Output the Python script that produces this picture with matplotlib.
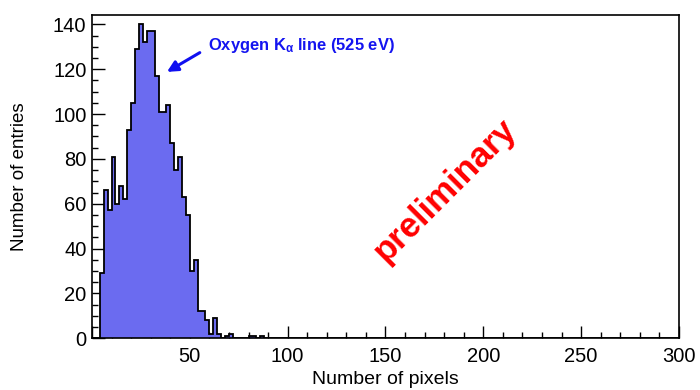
import numpy as np
import matplotlib
matplotlib.use("Agg")
import matplotlib.pyplot as plt
from matplotlib.ticker import MultipleLocator

plt.rcParams['font.family'] = ['Liberation Sans', 'DejaVu Sans']
plt.rcParams['mathtext.default'] = 'regular'

# Histogram: bin width 2, range 0-300; counts per bin starting at lower edge 0
bin_width = 2
x_range = (0, 300)
counts_head = [0, 0, 29, 66, 57, 81, 60, 68, 62, 93,
               105, 129, 140, 132, 137, 137, 117, 101, 101, 104,
               87, 75, 81, 63, 55, 30, 35, 12, 12, 8,
               2, 9, 2, 0, 1, 2, 0, 0, 0, 0,
               1, 1, 0, 1]

xlabel = "Number of pixels"
ylabel = "Number of entries"
annotation = r"Oxygen K$_{\alpha}$ line (525 eV)"
watermark = "preliminary"

edges = np.arange(x_range[0], x_range[1] + bin_width, bin_width)
counts = np.zeros(len(edges) - 1)
counts[:len(counts_head)] = counts_head

fig = plt.figure(figsize=(7.0, 3.9), dpi=100)
ax = fig.add_axes([0.1314, 0.1326, 0.8386, 0.8302])

ax.stairs(counts, edges, fill=True, facecolor='#6b6bf0', edgecolor='none', zorder=2)
ax.stairs(counts, edges, fill=False, color='black', linewidth=1.3, zorder=3)

ax.set_xlim(*x_range)
ax.set_ylim(0, 144.4)

ax.xaxis.set_major_locator(MultipleLocator(50))
ax.xaxis.set_minor_locator(MultipleLocator(10))
ax.yaxis.set_major_locator(MultipleLocator(20))
ax.yaxis.set_minor_locator(MultipleLocator(5))
ax.tick_params(which='both', direction='in', top=False, right=False, labelsize=14.5, width=1)
ax.tick_params(which='major', length=9)
ax.tick_params(which='minor', length=4.5)
ax.tick_params(axis='x', pad=6)
ax.tick_params(axis='y', pad=4)
xt = np.arange(0, 301, 50)
ax.set_xticks(xt)
ax.set_xticklabels(['' if v == 0 else f'{int(v)}' for v in xt])
ax.set_xlim(*x_range)

for s in ax.spines.values():
    s.set_linewidth(1.2)

ax.set_xlabel(xlabel, fontsize=14, labelpad=4)
ax.set_ylabel(ylabel, fontsize=13.5, labelpad=18)

ax.text(180.4, 65.9, watermark, color='red', fontsize=25, fontweight='bold',
        rotation=45, ha='center', va='center', zorder=5)

ax.annotate('', xy=(38.3, 118.8), xytext=(55.1, 127.4),
            arrowprops=dict(arrowstyle='-|>', color='#1010f0', lw=2.2,
                            mutation_scale=16, shrinkA=0, shrinkB=0), zorder=5)
ax.text(59.3, 130.8, annotation, color='#1414f0', fontsize=11.9, fontweight='bold',
        ha='left', va='center', zorder=5)

fig.savefig('out.png', dpi=100)
